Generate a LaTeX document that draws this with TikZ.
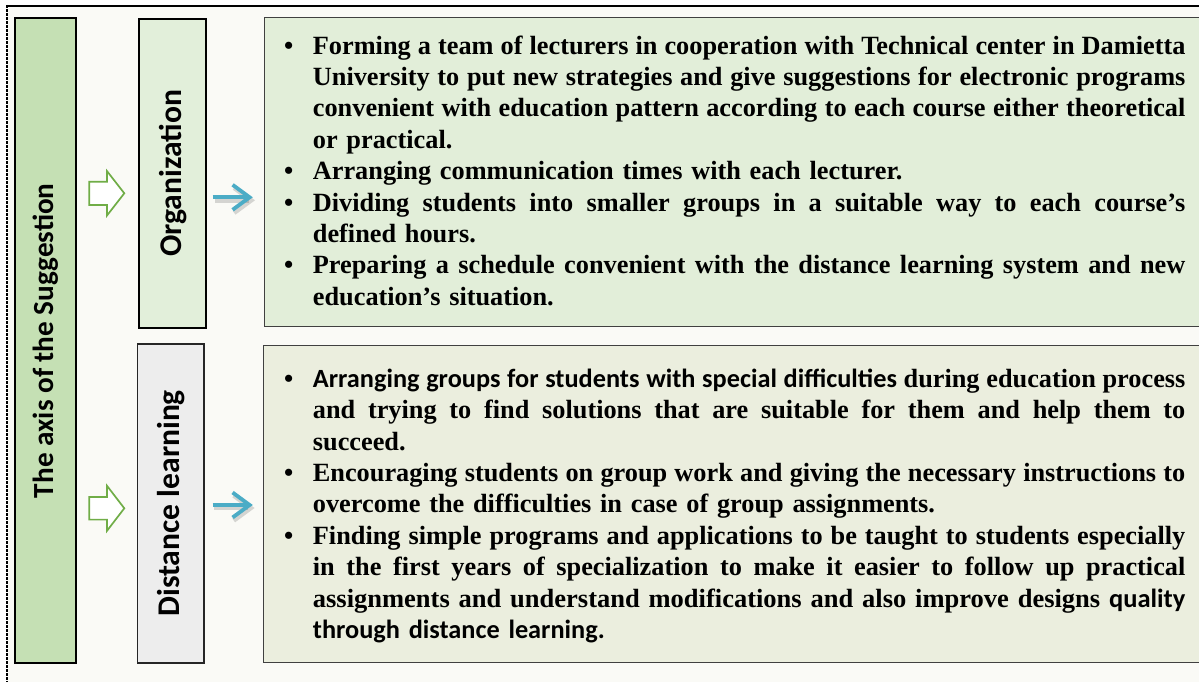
\documentclass[tikz,border=0pt]{standalone}
\usepackage{graphicx}
\usepackage{fontspec}
\setmainfont{Liberation Serif}
\newfontfamily\calfont{Carlito}
\usetikzlibrary{calc,arrows.meta}
\setlength{\parindent}{0pt}
\setlength{\parskip}{0pt}
\frenchspacing
\definecolor{bgc}{RGB}{250,250,246}
\definecolor{axisfill}{RGB}{197,224,180}
\definecolor{orgfill}{RGB}{226,239,218}
\definecolor{distfill}{RGB}{237,237,237}
\definecolor{topfill}{RGB}{226,238,217}
\definecolor{botfill}{RGB}{235,238,222}
\definecolor{garrowc}{RGB}{112,173,71}
\definecolor{barrowc}{RGB}{75,172,198}
\newcommand{\jl}[1]{\leavevmode\hbox to 872.5pt{\spaceskip=0.02em plus 1fil\relax #1}}
\newcommand{\jlf}[1]{\leavevmode\resizebox{872.5pt}{\height}{#1}}
\newcommand{\bul}{\leavevmode\llap{\textbullet\hspace{19.5pt}}}
\newcommand{\fs}{\rule{0pt}{20pt}}
\begin{document}
\begin{tikzpicture}[x=1pt,y=-1pt,
  axisbox/.style={draw=black, line width=2pt, fill=axisfill, inner sep=0pt, rotate=90,
    font=\calfont\bfseries\fontsize{29.2}{35}\selectfont},
  catbox/.style={draw=black, line width=2pt, inner sep=0pt, rotate=90,
    font=\calfont\bfseries\fontsize{31.6}{38}\selectfont},
  contbox/.style={draw=black!75, line width=1pt, inner sep=0pt},
  txt/.style={inner sep=0pt, text width=872.5pt, align=left,
    font=\bfseries\fontsize{26.3}{31.4}\selectfont},
  gar/.style={draw=garrowc, line width=1.7pt, fill=white, line join=miter},
  bar/.style={draw=barrowc, line width=3.8pt,
    -{Straight Barb[length=17pt,width=25pt]}},
  barsh/.style={draw=black, opacity=0.15, line width=4.6pt,
    -{Straight Barb[length=17pt,width=25pt]}},
  frame/.style={draw=black, line width=2pt}
]
\useasboundingbox (0,0) rectangle (1199,682);
\fill[white] (0,0) rectangle (1199,682);
\fill[bgc] (7,6) rectangle (1199,682);
\draw[frame] (6,5.8) -- (1199,5.8);
\draw[line width=1.6pt, dash pattern=on 2.7pt off 1.3pt] (7,5) -- (7,682);

% boxes
\node[axisbox, minimum width=644.5pt, minimum height=60.5pt] (axis) at (45.25,340.75) {The axis of the Suggestion};
\node[catbox, fill=orgfill, minimum width=308.4pt, minimum height=66.7pt] (org) at (172.65,173.5) {Organization};
\node[catbox, fill=distfill, draw=black!85, line width=1.6pt, minimum width=318.7pt, minimum height=66.7pt] (dist) at (170.65,503.35) {Distance learning};
\node[contbox, fill=topfill, minimum width=937pt, minimum height=308.7pt] (c1) at (732.5,171.65) {};
\node[contbox, fill=botfill, minimum width=937.7pt, minimum height=317.3pt] (c2) at (732.15,503.65) {};

% texts
\node[txt, anchor=north west] (t1) at (312.7,34) {%
\bul\fs\jl{Forming a team of lecturers in cooperation with Technical center in Damietta}\\
\jl{University to put new strategies and give suggestions for electronic programs}\\
\jl{convenient with education pattern according to each course either theoretical}\\
or practical.\\
\bul Arranging communication times with each lecturer.\\
\bul\jl{Dividing students into smaller groups in a suitable way to each course’s}\\
defined hours.\\
\bul\jl{Preparing a schedule convenient with the distance learning system and new}\\
education’s situation.};

\node[txt, anchor=north west] (t2) at (312.7,367) {%
\bul\fs\jl{{\calfont Arranging groups for students with special difficulties} during education process}\\
\jl{and trying to find solutions that are suitable for them and help them to}\\
succeed.\\
\bul\jl{Encouraging students on group work and giving the necessary instructions to}\\
overcome the difficulties in case of group assignments.\\
\bul\jl{Finding simple programs and applications to be taught to students especially}\\
\jl{in the first years of specialization to make it easier to follow up practical}\\
\jlf{assignments and understand modifications and also improve designs {\calfont quality}}\\
{\calfont through distance learning.}};

% green hollow arrows
\coordinate (gy1) at (0,193.3);
\coordinate (gy2) at (0,508.3);
\draw[gar] ($(axis.south|-gy1)+(12.8,0)$) coordinate (ga1) -- ++(0,-11.6) -- ++(17.7,0) -- ++(0,-10.6) -- ++(17.3,22.2) -- ++(-17.3,22.2) -- ++(0,-10.6) -- ++(-17.7,0) -- cycle;
\draw[gar] ($(axis.south|-gy2)+(12.8,0)$) coordinate (ga2) -- ++(0,-11.3) -- ++(17.7,0) -- ++(0,-11.2) -- ++(17.3,22.5) -- ++(-17.3,22.5) -- ++(0,-11.2) -- ++(-17.7,0) -- cycle;

% blue arrows
\coordinate (by1) at (0,197.3);
\coordinate (by2) at (0,505);
\draw[barsh] ($(org.south|-by1)+(7.5,3)$) -- ($(c1.west|-by1)+(-8.5,3)$);
\draw[bar] ($(org.south|-by1)+(5.7,0)$) -- ($(c1.west|-by1)+(-10.7,0)$);
\draw[barsh] ($(dist.south|-by2)+(9.5,3)$) -- ($(c2.west|-by2)+(-8.2,3)$);
\draw[bar] ($(dist.south|-by2)+(7.7,0)$) -- ($(c2.west|-by2)+(-10,0)$);
\end{tikzpicture}
\end{document}
